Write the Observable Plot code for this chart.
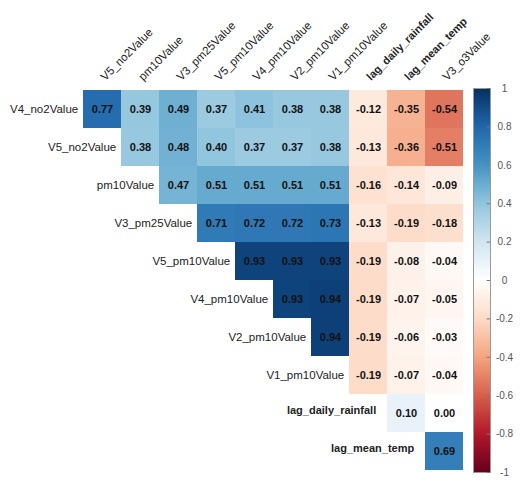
<!DOCTYPE html>
<html>
<head>
<meta charset="utf-8">
<script src="https://cdn.jsdelivr.net/npm/d3@7"></script>
<script src="https://cdn.jsdelivr.net/npm/@observablehq/plot@0.6"></script>
<style>
  body { margin: 0; background: #fff; }
  #wrap { position: relative; width: 520px; height: 481px; font-family: "Liberation Sans", Arial, sans-serif; }
  #wrap svg { position: absolute; left: 0; top: 0; }
</style>
</head>
<body>
<div id="wrap"></div>
<script>
const cols = ["V5_no2Value","pm10Value","V3_pm25Value","V5_pm10Value","V4_pm10Value","V2_pm10Value","V1_pm10Value","lag_daily_rainfall","lag_mean_temp","V3_o3Value"];
const rows = ["V4_no2Value","V5_no2Value","pm10Value","V3_pm25Value","V5_pm10Value","V4_pm10Value","V2_pm10Value","V1_pm10Value","lag_daily_rainfall","lag_mean_temp"];
const boldNames = ["lag_daily_rainfall","lag_mean_temp"];
// upper-triangle values; row i starts at column i
const values = [
  [0.77, 0.39, 0.49, 0.37, 0.41, 0.38, 0.38, -0.12, -0.35, -0.54],
  [0.38, 0.48, 0.40, 0.37, 0.37, 0.38, -0.13, -0.36, -0.51],
  [0.47, 0.51, 0.51, 0.51, 0.51, -0.16, -0.14, -0.09],
  [0.71, 0.72, 0.72, 0.73, -0.13, -0.19, -0.18],
  [0.93, 0.93, 0.93, -0.19, -0.08, -0.04],
  [0.93, 0.94, -0.19, -0.07, -0.05],
  [0.94, -0.19, -0.06, -0.03],
  [-0.19, -0.07, -0.04],
  [0.10, 0.00],
  [0.69]
];
const legendTicks = [1, 0.8, 0.6, 0.4, 0.2, 0, -0.2, -0.4, -0.6, -0.8, -1];
const paletteStops = [-1, -0.8, -0.6, -0.4, -0.2, 0, 0.2, 0.4, 0.6, 0.8, 1];
const palette = ["#67001F","#B2182B","#D6604D","#F4A582","#FDDBC7","#FFFFFF","#D1E5F0","#92C5DE","#4393C3","#2166AC","#053061"];

const W = 520, H = 481;
const mL = 80, mR = 54, mT = 88, mB = 9;
const cw = (W - mL - mR) / cols.length;
const colorOpts = {type: "linear", domain: paletteStops, range: palette, interpolate: "rgb"};

const cellData = rows.flatMap((r, i) => values[i].map((v, j) => ({row: r, col: cols[i + j], v})));
const rowLabels = rows.map((r, i) => ({row: r, col: cols[i]}));
const fmt = d3.format(".2f");
const font = '"Liberation Sans", Arial, sans-serif';

const main = Plot.plot({
  width: W, height: H,
  marginLeft: mL, marginRight: mR, marginTop: mT, marginBottom: mB,
  style: {fontFamily: font, background: "transparent"},
  x: {domain: cols, axis: null, padding: 0},
  y: {domain: rows, axis: null, padding: 0},
  color: colorOpts,
  marks: [
    Plot.cell(cellData, {x: "col", y: "row", fill: "v"}),
    Plot.text(cellData, {x: "col", y: "row", text: d => fmt(d.v).replace("\u2212", "-"), fontWeight: "bold", fontSize: 11, fill: "#111"}),
    Plot.text(rowLabels.filter(d => !boldNames.includes(d.row)), {x: "col", y: "row", text: "row", textAnchor: "end", dx: -(cw / 2) - 5, fontSize: 11.5, fill: "#222"}),
    Plot.text(rowLabels.filter(d => boldNames.includes(d.row)), {x: "col", y: "row", text: "row", textAnchor: "end", dx: -(cw / 2) - 11, dy: -3, fontSize: 11, fontWeight: "bold", fill: "#222"}),
    Plot.text(cols.filter(c => !boldNames.includes(c)), {x: d => d, frameAnchor: "top", text: d => d, rotate: -45, textAnchor: "start", dy: -13, dx: -3, fontSize: 11.5, fill: "#222"}),
    Plot.text(cols.filter(c => boldNames.includes(c)), {x: d => d, frameAnchor: "top", text: d => d, rotate: -45, textAnchor: "start", dy: -13, dx: -3, fontSize: 11, fontWeight: "bold", fill: "#222"})
  ]
});

const step = 0.01;
const grad = d3.range(-1, 1 - step / 2, step);
const legend = Plot.plot({
  width: W, height: H,
  marginLeft: 473, marginRight: 30, marginTop: mT, marginBottom: mB,
  style: {fontFamily: font, background: "transparent"},
  x: {domain: [0, 1], axis: null},
  y: {domain: [-1, 1], axis: null},
  color: colorOpts,
  marks: [
    Plot.rect(grad, {x1: 0, x2: 1, y1: d => d, y2: d => Math.min(1, d + step * 1.6), fill: d => d + step / 2}),
    Plot.frame({stroke: "#999", strokeWidth: 1}),
    Plot.ruleY(legendTicks, {x1: 0.8, x2: 1, stroke: "#777"}),
    Plot.text(legendTicks, {y: d => d, frameAnchor: "right", dx: 14, textAnchor: "middle", fontSize: 10, fill: "#555",
      text: d => String(+d.toFixed(1))})
  ]
});

const wrap = document.getElementById("wrap");
wrap.appendChild(main);
wrap.appendChild(legend);
</script>
</body>
</html>
